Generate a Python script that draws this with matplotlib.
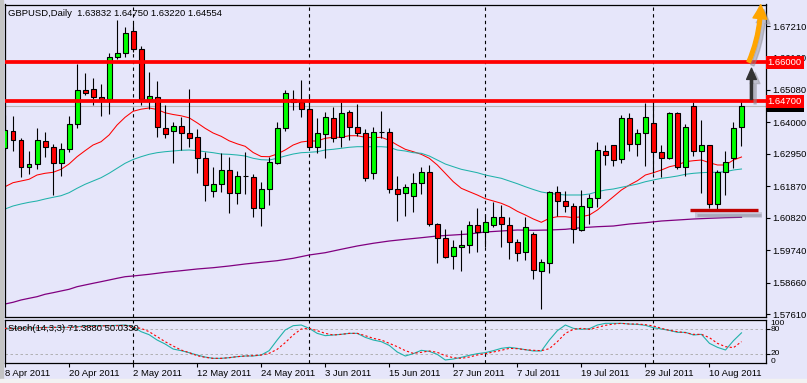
import matplotlib
matplotlib.use("Agg")
import matplotlib.pyplot as plt
from matplotlib.patches import Rectangle, FancyArrowPatch
from matplotlib.transforms import blended_transform_factory
import numpy as np

# ---------------- data ----------------
opens = [1.63133, 1.6371, 1.6341, 1.6250, 1.6260, 1.63377, 1.63187, 1.62633, 1.6310, 1.63933,
         1.65067, 1.6510, 1.64853, 1.64767, 1.66167, 1.6630, 1.67033, 1.66433, 1.64767, 1.64853,
         1.6382, 1.6371, 1.63877, 1.63633, 1.635, 1.628, 1.6171, 1.61933, 1.6240, 1.61633,
         1.6222, 1.62167, 1.61133, 1.61767, 1.62653, 1.638, 1.64777, 1.64677, 1.64433, 1.63167,
         1.636, 1.64133, 1.635, 1.64333, 1.63853, 1.63633, 1.6230, 1.63687, 1.63687, 1.61767,
         1.61633, 1.61553, 1.61967, 1.62353, 1.6060, 1.60133, 1.59553, 1.59833, 1.5990, 1.60567,
         1.60353, 1.60567, 1.60833, 1.60567, 1.6000, 1.59667, 1.60267, 1.59053, 1.5930, 1.61667,
         1.61377, 1.6121, 1.6041, 1.61187, 1.61467, 1.63053, 1.63243, 1.62767, 1.64133, 1.63267,
         1.63633, 1.63967, 1.6302, 1.628, 1.6432, 1.6250, 1.64543, 1.63053, 1.63243, 1.61267,
         1.62333, 1.628, 1.63832]
highs = [1.64243, 1.6421, 1.63467, 1.63043, 1.6382, 1.63667, 1.63267, 1.6330, 1.6421, 1.65933,
         1.65653, 1.65467, 1.65277, 1.6632, 1.6741, 1.67187, 1.6732, 1.66543, 1.65687, 1.65377,
         1.64577, 1.6402, 1.64187, 1.6511, 1.63767, 1.6302, 1.6252, 1.62967, 1.62853, 1.62387,
         1.6300, 1.62277, 1.6202, 1.62853, 1.6402, 1.65077, 1.65077, 1.6541, 1.6491, 1.64133,
         1.64353, 1.6452, 1.64667, 1.6441, 1.6461, 1.63777, 1.63833, 1.64377, 1.638, 1.6221,
         1.61943, 1.6232, 1.6250, 1.62577, 1.60653, 1.60433, 1.60077, 1.6041, 1.6072, 1.61133,
         1.60943, 1.61353, 1.61243, 1.60853, 1.6012, 1.60853, 1.60353, 1.59433, 1.6170, 1.61877,
         1.6171, 1.6130, 1.61743, 1.6161, 1.63333, 1.63243, 1.6326, 1.64243, 1.6432, 1.63767,
         1.64633, 1.64743, 1.63243, 1.64353, 1.6434, 1.63933, 1.64667, 1.64077, 1.6326, 1.6241,
         1.63053, 1.6402, 1.64750]
lows = [1.63077, 1.63053, 1.62187, 1.62277, 1.62443, 1.62853, 1.61577, 1.6222, 1.6302, 1.6380,
        1.6491, 1.64577, 1.6421, 1.64277, 1.6612, 1.66167, 1.66353, 1.64577, 1.64433, 1.6352,
        1.63487, 1.62633, 1.63077, 1.63167, 1.6230, 1.61387, 1.6152, 1.61687, 1.60987, 1.61267,
        1.6160, 1.60833, 1.60533, 1.61243, 1.6261, 1.6372, 1.6441, 1.64167, 1.63133, 1.62987,
        1.628, 1.63353, 1.63187, 1.6341, 1.63543, 1.62053, 1.6210, 1.63467, 1.61633, 1.6072,
        1.60887, 1.6102, 1.6161, 1.60543, 1.5932, 1.59467, 1.5910, 1.59053, 1.59653, 1.59687,
        1.59833, 1.6050, 1.59853, 1.59433, 1.59387, 1.5941, 1.58767, 1.57767, 1.58987, 1.60877,
        1.6102, 1.59987, 1.60387, 1.6061, 1.61167, 1.62577, 1.62543, 1.62633, 1.63053, 1.62887,
        1.62543, 1.6230, 1.62187, 1.62767, 1.6243, 1.6222, 1.62887, 1.61653, 1.61133, 1.6111,
        1.61577, 1.62487, 1.63220]
closes = [1.63743, 1.6341, 1.6250, 1.6261, 1.6341, 1.63187, 1.62633, 1.6310, 1.63933, 1.65067,
          1.64967, 1.64853, 1.64767, 1.66167, 1.6630, 1.66967, 1.66433, 1.64767, 1.64877, 1.63833,
          1.636, 1.63877, 1.63633, 1.63487, 1.628, 1.6191, 1.61933, 1.6240, 1.61633, 1.6221,
          1.6222, 1.61133, 1.61767, 1.62667, 1.638, 1.64967, 1.64687, 1.64433, 1.63167, 1.63633,
          1.64167, 1.63467, 1.643, 1.63853, 1.63633, 1.62153, 1.63687, 1.63687, 1.61767, 1.616,
          1.61833, 1.61967, 1.62353, 1.6060, 1.60133, 1.5952, 1.59833, 1.5991, 1.60567, 1.60353,
          1.60677, 1.60833, 1.6060, 1.6000, 1.59633, 1.6052, 1.59077, 1.59353, 1.61667, 1.61377,
          1.6122, 1.60433, 1.6121, 1.61467, 1.63077, 1.629, 1.62743, 1.64133, 1.63267, 1.63633,
          1.64167, 1.6302, 1.628, 1.643, 1.6250, 1.63833, 1.63053, 1.63243, 1.61267, 1.62353,
          1.62667, 1.638, 1.64554]

ma_red = [1.61853, 1.61987, 1.62043, 1.6210, 1.62243, 1.6230, 1.62333, 1.62433, 1.6261, 1.62853,
          1.63053, 1.63243, 1.63353, 1.63577, 1.6391, 1.64167, 1.64367, 1.64437, 1.64477, 1.64427,
          1.64317, 1.6426, 1.64217, 1.6415, 1.63983, 1.638, 1.63643, 1.63533, 1.63383, 1.63283,
          1.632, 1.62993, 1.6286, 1.62853, 1.62943, 1.63077, 1.63243, 1.63343, 1.63377, 1.63377,
          1.63467, 1.635, 1.635, 1.63553, 1.63553, 1.635, 1.63487, 1.635, 1.634, 1.63243,
          1.631, 1.6302, 1.62933, 1.628, 1.62577, 1.623, 1.6202, 1.618, 1.61687, 1.61577,
          1.61453, 1.61377, 1.613, 1.61187, 1.61033, 1.6091, 1.60777, 1.60667, 1.608, 1.60853,
          1.60853, 1.6082, 1.60853, 1.6091, 1.61077, 1.613, 1.6152, 1.61743, 1.6191, 1.62053,
          1.62243, 1.6232, 1.6241, 1.6252, 1.62577, 1.62687, 1.6272, 1.62743, 1.62653, 1.62577,
          1.62577, 1.62743, 1.62843]
ma_teal = [1.6111, 1.6121, 1.61277, 1.61333, 1.61377, 1.61443, 1.615, 1.61553, 1.61653, 1.618,
           1.61933, 1.62043, 1.62153, 1.623, 1.62467, 1.62633, 1.6276, 1.62853, 1.62933, 1.62987,
           1.6302, 1.63043, 1.63067, 1.63077, 1.63053, 1.6302, 1.62987, 1.62943, 1.62933, 1.6291,
           1.62877, 1.628, 1.62753, 1.62743, 1.628, 1.62877, 1.62943, 1.62987, 1.63, 1.6302,
           1.63077, 1.631, 1.63133, 1.63167, 1.63187, 1.63187, 1.63187, 1.63187, 1.63167, 1.63077,
           1.63043, 1.62987, 1.62967, 1.62877, 1.62743, 1.6261, 1.6252, 1.62433, 1.62377, 1.6232,
           1.62243, 1.62187, 1.62133, 1.62043, 1.61953, 1.61853, 1.6176, 1.61677, 1.61633, 1.616,
           1.61577, 1.61577, 1.61577, 1.6161, 1.61687, 1.61743, 1.61777, 1.61833, 1.61887, 1.61943,
           1.6202, 1.62077, 1.62133, 1.62167, 1.6221, 1.62267, 1.623, 1.6232, 1.62333, 1.62333,
           1.62353, 1.6241, 1.62443]
ma_purple_idx = [0, 1, 2, 3, 4, 5, 6, 7, 8, 9, 10, 11, 12, 13, 14, 15, 16, 18, 20, 22, 24, 26,
                 28, 30, 32, 34, 36, 38, 40, 42, 44, 46, 48, 50, 52, 54, 56, 58, 60, 62, 64, 66,
                 68, 70, 72, 74, 76, 78, 80, 82, 84, 86, 88, 90, 92]
ma_purple = [1.57943, 1.58, 1.58077, 1.58133, 1.58187, 1.58267, 1.5832, 1.58377, 1.58433, 1.5852,
             1.58577, 1.58633, 1.58687, 1.58743, 1.588, 1.58853, 1.58877, 1.58933, 1.59, 1.59053,
             1.5911, 1.59153, 1.5921, 1.59277, 1.59333, 1.59387, 1.59467, 1.59577, 1.59653, 1.59767,
             1.59877, 1.59967, 1.60043, 1.601, 1.60153, 1.6021, 1.60243, 1.60277, 1.60343, 1.60377,
             1.6041, 1.604, 1.6041, 1.60433, 1.60487, 1.6052, 1.60543, 1.6061, 1.60653, 1.6071,
             1.60743, 1.60777, 1.608, 1.6082, 1.60833]

stoch_main = [82.4, 82.4, 83.2, 83.2, 84.0, 84.8, 84.8, 84.8, 84.8, 86.5,
              88.1, 88.9, 88.9, 88.9, 89.7, 90.5, 86.5, 74.3, 67.0, 54.0,
              44.3, 32.1, 28.1, 23.2, 17.5, 12.6, 9.4, 9.4, 11.0, 13.5,
              15.1, 15.1, 17.5, 28.1, 54.0, 78.3, 88.9, 90.5, 82.4, 70.2,
              64.6, 66.2, 67.8, 70.2, 70.2, 60.5, 54.0, 50.0, 40.9, 24.8,
              15.1, 20.8, 28.9, 26.4, 19.1, 5.4, 7.8, 11.8, 16.7, 20.8,
              23.2, 28.1, 33.7, 36.2, 33.7, 30.5, 27.3, 27.3, 54.0, 76.7,
              90.5, 82.4, 80.0, 81.6, 90.5, 94.6, 94.6, 94.6, 92.9, 92.1,
              89.7, 84.0, 80.8, 77.5, 72.7, 72.7, 66.2, 67.8, 45.9, 36.2,
              29.7, 52.4, 71.388]
stoch_signal = [82.4, 82.4, 82.8, 83.2, 83.6, 84.0, 84.8, 84.8, 84.8, 85.6,
                86.5, 87.3, 88.1, 88.9, 88.9, 89.7, 84.8, 82.4, 74.3, 62.1,
                50.0, 39.4, 29.7, 23.2, 15.9, 11.8, 9.4, 9.4, 11.0, 13.5,
                15.1, 15.9, 17.5, 21.6, 31.3, 47.5, 66.2, 80.8, 82.4, 76.7,
                70.2, 66.2, 67.8, 70.2, 70.2, 64.6, 58.1, 54.0, 45.9, 37.8,
                28.1, 21.6, 24.0, 27.3, 24.0, 15.9, 11.0, 9.4, 12.6, 17.5,
                20.8, 24.8, 28.9, 33.7, 32.9, 30.5, 28.9, 28.1, 32.9, 50.0,
                70.2, 80.0, 82.4, 80.0, 84.8, 89.7, 92.9, 94.6, 92.9, 92.9,
                91.3, 88.1, 82.4, 77.5, 74.3, 71.9, 67.8, 67.8, 59.7, 45.9,
                37.8, 35.4, 50.033]

date_tick_idx = [0, 8, 16, 24, 32, 40, 48, 56, 64, 72, 80, 88]
date_labels = ["8 Apr 2011", "20 Apr 2011", "2 May 2011", "12 May 2011", "24 May 2011",
               "3 Jun 2011", "15 Jun 2011", "27 Jun 2011", "7 Jul 2011", "19 Jul 2011",
               "29 Jul 2011", "10 Aug 2011"]
separator_idx = [16, 38, 60, 81]
price_ticks = [1.67210, 1.66160, 1.65080, 1.64000, 1.62950, 1.61870, 1.60820, 1.59740,
               1.58660, 1.57610]
level_lines = [1.66000, 1.64700]
bid_price = 1.64554
support_price = 1.61077
support_from, support_to = 85.6, 94.1
stoch_levels = [80, 20]
stoch_scale_labels = ["100", "80", "20", "0"]
title = "GBPUSD,Daily  1.63832 1.64750 1.63220 1.64554"
stoch_title = "Stoch(14,3,3) 71.3880 50.0330"

# ---------------- figure ----------------
plt.rcParams['font.family'] = ['Liberation Sans', 'DejaVu Sans']
W, H = 807, 383
BG = "#E6E6FA"
fig = plt.figure(figsize=(W / 100, H / 100), dpi=100)
fig.patch.set_facecolor(BG)
FS = 6.8


def rect(x0, y0, x1, y1):
    return [x0 / W, 1 - y1 / H, (x1 - x0) / W, (y1 - y0) / H]


main = fig.add_axes(rect(5, 4.5, 765.5, 317))
sto = fig.add_axes(rect(5, 320, 765.5, 362.7))
for ax in (main, sto):
    ax.set_facecolor(BG)
    for s in ax.spines.values():
        s.set_color("black")
        s.set_linewidth(0.9)
    ax.set_xlim(0, 95)

main.set_ylim(1.5751, 1.679267)
sto.set_ylim(-1.2, 102.7)

idx = np.arange(len(opens))
o = np.array(opens); c = np.array(closes); h = np.array(highs); l = np.array(lows)
up = c >= o

# moving averages
main.plot(idx, ma_red, color="#FF0000", lw=0.75, zorder=2)
main.plot(idx, ma_teal, color="#20B2AA", lw=0.75, zorder=2)
main.plot(ma_purple_idx, ma_purple, color="#800080", lw=0.9, zorder=2)

# bid line and separators
main.axhline(bid_price, color="#B8B8B8", lw=0.8, zorder=1)
for ax in (main, sto):
    for s in separator_idx:
        ax.axvline(s, color="black", lw=0.8, ls=(0, (3, 3)), zorder=1.5)

# candles
main.vlines(idx, l, h, color="black", lw=0.8, zorder=3)
main.bar(idx[up], (c - o)[up], bottom=o[up], width=0.62, color="#00FF00",
         edgecolor="black", linewidth=0.8, zorder=4)
main.bar(idx[~up], (o - c)[~up], bottom=c[~up], width=0.62, color="#FF0000",
         edgecolor="black", linewidth=0.8, zorder=4)

# horizontal levels
for lv in level_lines:
    main.axhline(lv, color="#FF0000", lw=2.7, zorder=5)

# support line with shadow
main.hlines(support_price - 0.0018, support_from + 0.6, support_to + 0.5,
            color="#8C8C9C", lw=4.0, alpha=0.35, zorder=5)
main.hlines(support_price - 0.0017, support_from + 0.8, support_to + 0.3,
            color="#7C7C8C", lw=2.0, alpha=0.4, zorder=5)
main.hlines(support_price, support_from, support_to, color="#C00000", lw=2.4, zorder=6)

# arrows
blk_x = 93.25
blk = dict(arrowstyle="simple,head_width=7,head_length=8,tail_width=1.6", mutation_scale=1,
           shrinkA=0, shrinkB=0, clip_on=False, transform=main.transData)
main.add_patch(FancyArrowPatch((blk_x + 0.45, 1.6461), (blk_x + 0.45, 1.6566),
                               color="#909098", alpha=0.45, zorder=7, **blk))
main.add_patch(FancyArrowPatch((blk_x, 1.6476), (blk_x, 1.6580),
                               color="#333333", zorder=8, **blk))
org = dict(arrowstyle="simple,head_width=10,head_length=10,tail_width=2.6", mutation_scale=1,
           shrinkA=0, shrinkB=0, clip_on=False, transform=main.transData,
           connectionstyle="arc3,rad=0.1")
main.add_patch(FancyArrowPatch((93.35, 1.6590), (94.8, 1.6776),
                               color="#8C8C94", alpha=0.45, zorder=7, **org))
main.add_patch(FancyArrowPatch((92.9, 1.6601), (94.4, 1.6792),
                               color="#FFA500", zorder=8, **org))

# stochastic
for lvl in stoch_levels:
    sto.axhline(lvl, color="#A8A8A8", lw=0.6, ls=(0, (3, 3)), zorder=1)
sto.plot(idx, stoch_main, color="#20B2AA", lw=0.8, zorder=3)
sto.plot(idx, stoch_signal, color="#FF0000", lw=0.8, ls=(0, (2, 2)), zorder=3)

# axes ticks & labels
main.set_xticks([])
main.yaxis.tick_right()
main.set_yticks(price_ticks)
main.set_yticklabels([f"{p:.5f}" for p in price_ticks])
main.tick_params(axis="y", length=3, width=0.8, pad=2, labelsize=FS, colors="black")

sto.yaxis.tick_right()
sto.set_yticks(stoch_levels)
sto.set_yticklabels([])
sto.tick_params(axis="y", length=3, width=0.8)
sto.set_xticks(date_tick_idx)
sto.set_xticklabels(date_labels)
sto.tick_params(axis="x", length=3, width=0.8, pad=1.5, labelsize=FS)
for lab in sto.get_xticklabels():
    lab.set_horizontalalignment("left")

ts = blended_transform_factory(sto.transAxes, sto.transData)
for txt, v in zip(stoch_scale_labels, [95, 80, 20, 1]):
    sto.text(1.0 + 5 / 760, v, txt, transform=ts, fontsize=6.0, va="center", ha="left",
             clip_on=False)

# price-label boxes at the right edge
tm = blended_transform_factory(main.transAxes, main.transData)
main.text(1.0 + 2 / 760, bid_price, f"{bid_price:.5f}", transform=tm, fontsize=FS,
          color="white", va="center", ha="left", clip_on=False, zorder=9,
          bbox=dict(boxstyle="square,pad=0.2", fc="black", ec="none"))
for lv in level_lines:
    main.text(1.0 + 2 / 760, lv, f"{lv:.5f}", transform=tm, fontsize=FS, color="white",
              va="center", ha="left", clip_on=False, zorder=10,
              bbox=dict(boxstyle="square,pad=0.2", fc="#FF0000", ec="none"))

# titles
fig.text(8 / W, 1 - 13.5 / H, title, fontsize=FS, va="center", ha="left", color="black")
fig.text(8 / W, 1 - 328.5 / H, stoch_title, fontsize=FS, va="center", ha="left",
         color="black", zorder=10)

# window frame
fig.add_artist(Rectangle((0, 0), 3 / W, 1, transform=fig.transFigure, color="#C4C4C4", zorder=0))
fig.add_artist(Rectangle((0, 0), 1, 4 / H, transform=fig.transFigure, color="#F2F2F2", zorder=0))

fig.savefig("out.png", dpi=100, facecolor=BG)
